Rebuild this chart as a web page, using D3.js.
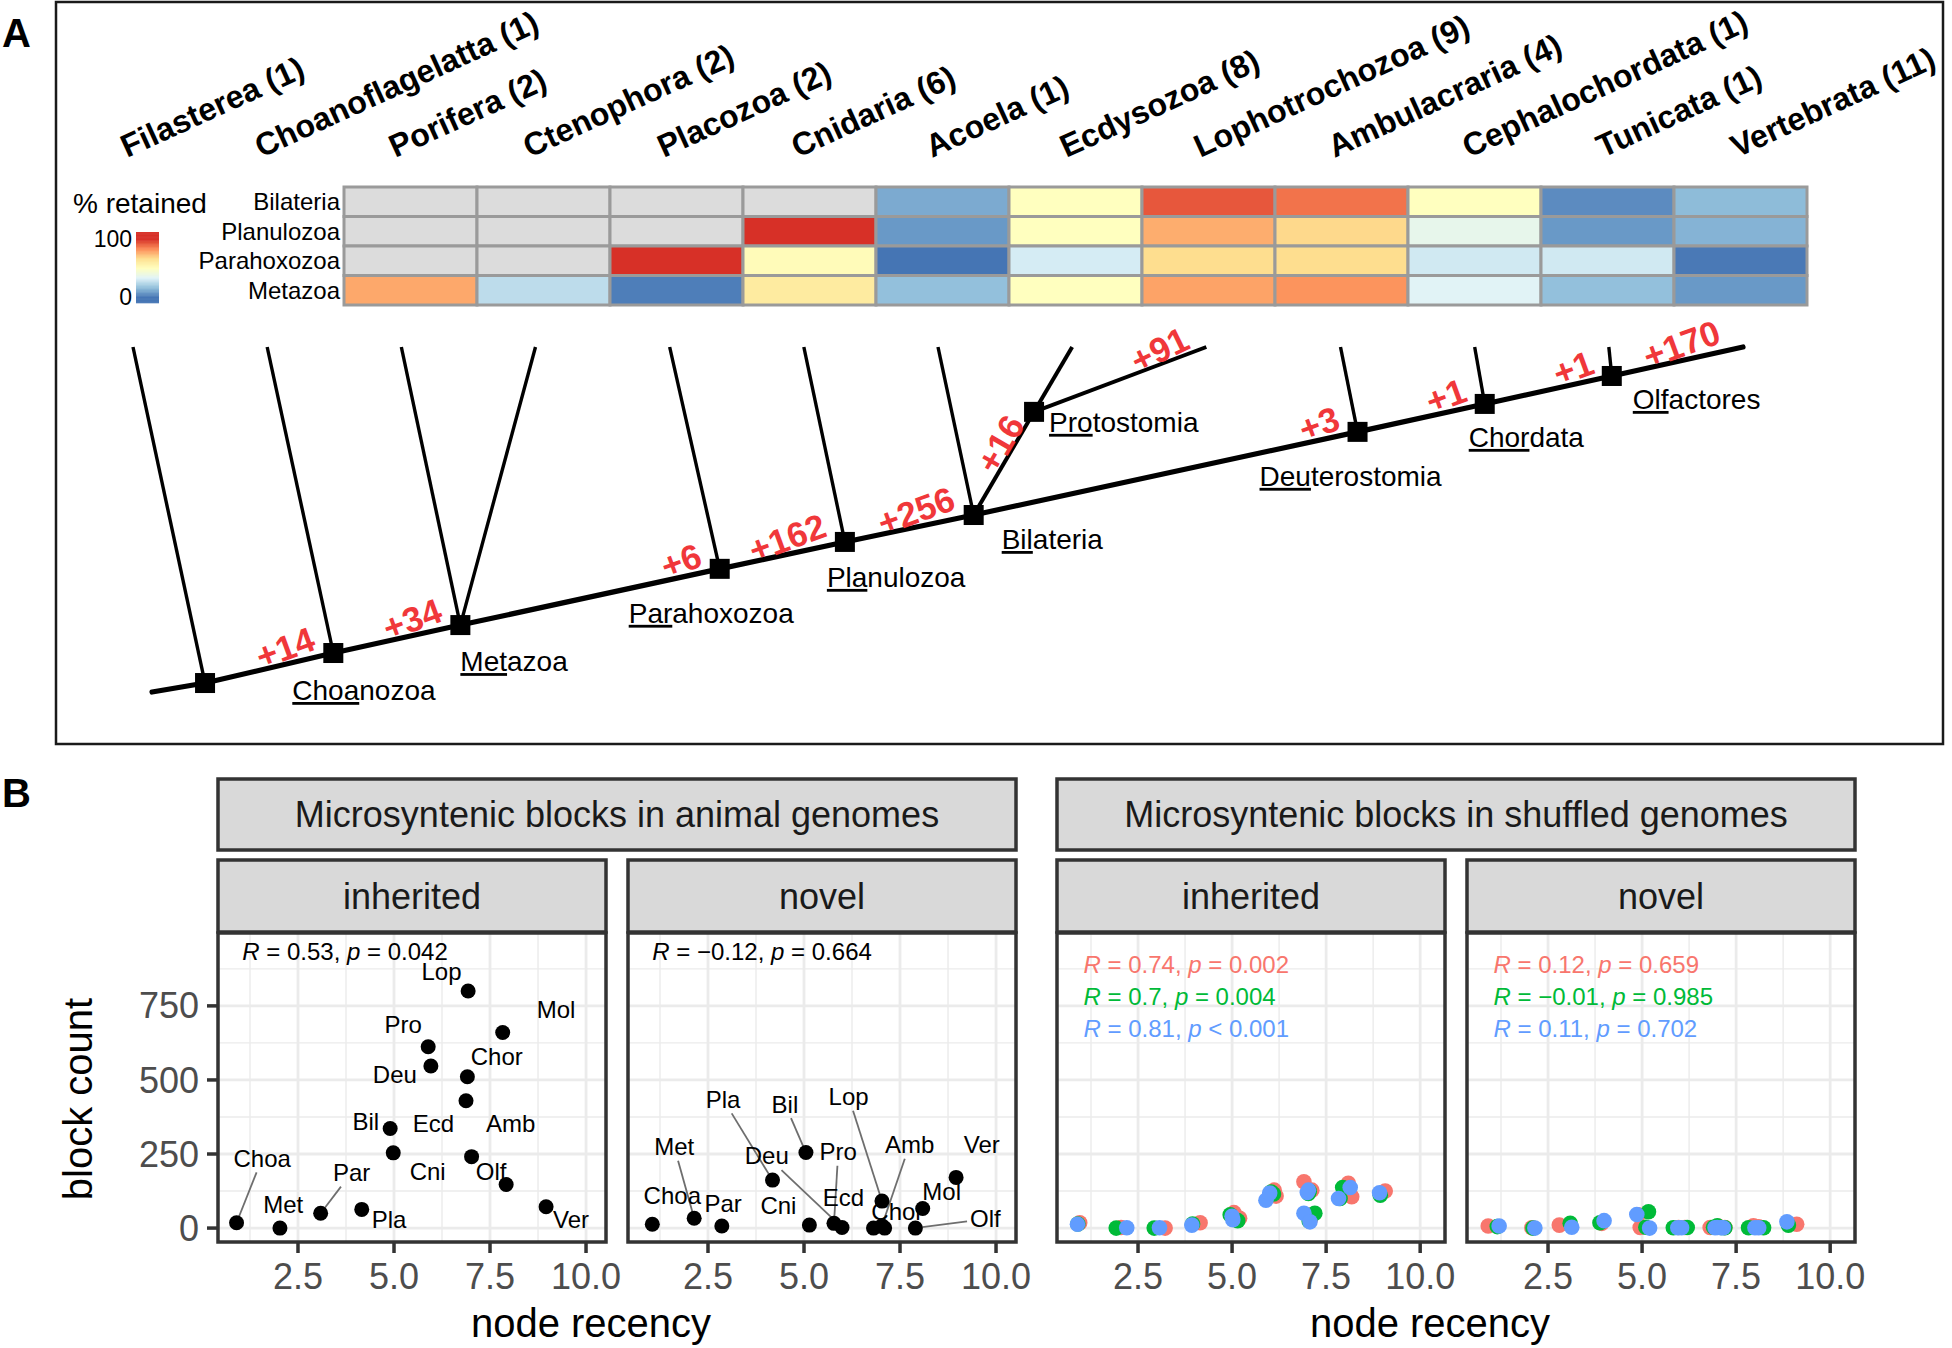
<!DOCTYPE html>
<html><head><meta charset="utf-8">
<script src="https://cdn.jsdelivr.net/npm/d3@7"></script>
<style>
html,body{margin:0;padding:0;background:#fff;}
svg{display:block;font-family:"Liberation Sans",Arial,Helvetica,sans-serif;}
</style></head><body>
<svg id="c" width="1952" height="1348"></svg>
<script>
// ================= DATA =================
// Panel A: taxa (tips of the tree) with genome counts
const tipIds = ["Filasterea","Choanoflagelatta","Porifera","Ctenophora","Placozoa","Cnidaria","Acoela","Ecdysozoa","Lophotrochozoa","Ambulacraria","Cephalochordata","Tunicata","Vertebrata"];
const tipCounts = [1,1,2,2,2,6,1,8,9,4,1,1,11];

// internal nodes: position in tip units, depth (0 = tips, 1 = base of tree)
const nodeIds = ["base","root","Choanozoa","Metazoa","Parahoxozoa","Planulozoa","Bilateria","Protostomia","Deuterostomia","Chordata","Olfactores"];
const nodePos = [0.142,0.537,1.493,2.440,4.373,5.306,6.266,6.716,9.127,10.075,11.022];
const nodeDepth = [1.0,0.974,0.887,0.806,0.643,0.565,0.487,0.188,0.246,0.165,0.084];
const nodeAbbr = {Choanozoa:"Choa",Metazoa:"Met",Parahoxozoa:"Par",Planulozoa:"Pla",Bilateria:"Bil",Protostomia:"Pro",Deuterostomia:"Deu",Chordata:"Chor",Olfactores:"Olf"};

const treeEdges = [["base","root"],["root","Filasterea"],["root","Choanozoa"],["Choanozoa","Choanoflagelatta"],["Choanozoa","Metazoa"],["Metazoa","Porifera"],["Metazoa","Ctenophora"],["Metazoa","Parahoxozoa"],["Parahoxozoa","Placozoa"],["Parahoxozoa","Planulozoa"],["Planulozoa","Cnidaria"],["Planulozoa","Bilateria"],["Bilateria","Acoela"],["Bilateria","Protostomia"],["Protostomia","Ecdysozoa"],["Protostomia","Lophotrochozoa"],["Bilateria","Deuterostomia"],["Deuterostomia","Ambulacraria"],["Deuterostomia","Chordata"],["Chordata","Cephalochordata"],["Chordata","Olfactores"],["Olfactores","Tunicata"],["Olfactores","Vertebrata"]];

// novel blocks gained on the branch leading to a node
const gainNodes = ["Choanozoa","Metazoa","Parahoxozoa","Planulozoa","Bilateria","Protostomia","Lophotrochozoa","Deuterostomia","Chordata","Olfactores","Vertebrata"];
const gainValues = [14,34,6,162,256,16,91,3,1,1,170];

// heatmap: % retained
const heatRows = ["Bilateria","Planulozoa","Parahoxozoa","Metazoa"];
const heatCols = ["Porifera","Ctenophora","Placozoa","Cnidaria","Acoela","Ecdysozoa","Lophotrochozoa","Ambulacraria","Cephalochordata","Tunicata","Vertebrata"];
const retBilateria   = [null,null,null,null,12,50,93,88,50,5,16];
const retPlanulozoa  = [null,null,null,100,8,50,77,68,37,8,14];
const retParahoxozoa = [null,null,100,52,0,31,67,67,30,30,1];
const retMetazoa     = [78,26,2,61,17,50,79,82,34,17,8];

// Panel B: microsyntenic blocks vs node recency
const nodeNames = ["Choa","Met","Par","Pla","Bil","Cni","Pro","Deu","Ecd","Lop","Amb","Chor","Olf","Mol","Ver"];
const inhRecency = [0.90,2.03,3.09,4.16,4.90,4.98,5.89,5.96,6.875,6.93,7.02,6.91,7.92,7.83,8.96];
const inhBlocks  = [18,0,50,63,336,254,612,547,430,800,241,511,147,660,72];
const novRecency = [1.05,2.14,2.86,4.18,5.05,5.14,5.78,5.99,6.81,7.03,7.03,7.10,7.90,8.09,8.96];
const novBlocks  = [13,33,7,162,255,10,16,2,0,91,8,0,0,66,171];

// shuffled genomes: three replicates (red, green, blue), [recency, blocks]
const shufInhRed   = [[0.95,18],[2.05,2],[3.22,0],[4.15,18],[5.05,52],[5.20,33],[6.12,128],[6.17,108],[6.91,156],[7.12,128],[7.08,30],[7.00,45],[8.09,151],[8.18,106],[9.07,125]];
const shufInhGreen = [[0.90,14],[1.92,0],[2.93,0],[3.95,14],[4.95,45],[5.15,25],[6.04,122],[6.10,115],[7.03,117],[7.05,125],[7.20,50],[7.05,24],[7.94,137],[7.87,100],[8.94,111]];
const shufInhBlue  = [[0.89,13],[2.20,1],[3.07,1],[3.93,10],[5.00,40],[5.02,28],[5.90,94],[6.00,118],[7.03,128],[7.00,120],[6.91,50],[7.07,21],[8.14,137],[7.83,100],[8.92,119]];
const shufNovRed   = [[0.91,7],[2.07,1],[2.80,10],[3.93,16],[4.90,45],[4.95,2],[5.97,2],[6.14,2],[6.81,2],[7.03,6],[7.05,3],[7.20,2],[7.96,8],[8.10,4],[9.11,13]];
const shufNovGreen = [[1.15,5],[2.10,0],[3.09,16],[3.88,18],[5.17,55],[5.10,3],[5.83,1],[6.20,2],[6.90,3],[7.00,8],[7.10,2],[7.20,1],[7.83,1],[8.23,1],[8.89,10]];
const shufNovBlue  = [[1.20,7],[2.15,0],[3.13,3],[3.99,25],[4.86,46],[5.20,0],[5.95,1],[6.05,1],[6.94,1],[7.00,2],[7.10,1],[7.16,1],[8.00,1],[8.10,1],[8.85,21]];

const corAnimal = [{R:"0.53",p:"= 0.042"},{R:"\u22120.12",p:"= 0.664"}];
const corShufInh = [{R:"0.74",p:"= 0.002"},{R:"0.7",p:"= 0.004"},{R:"0.81",p:"< 0.001"}];
const corShufNov = [{R:"0.12",p:"= 0.659"},{R:"\u22120.01",p:"= 0.985"},{R:"0.11",p:"= 0.702"}];

const xBreaks = [2.5,5,7.5,10];
const xMinor = [1.25,3.75,6.25,8.75];
const yBreaks = [0,250,500,750];
const yMinor = [125,375,625,875];

// ================= LAYOUT / STYLE =================
const svg = d3.select("#c");
const RED = "#f0373a";
const repCols = ["#F8766D","#00BA38","#619CFF"];

// panel letters
svg.append("text").attr("x",2).attr("y",47).attr("font-size",40).attr("font-weight","bold").text("A");
svg.append("text").attr("x",2).attr("y",807).attr("font-size",40).attr("font-weight","bold").text("B");
svg.append("rect").attr("x",56).attr("y",2).attr("width",1887).attr("height",742)
  .attr("fill","none").attr("stroke","#1a1a1a").attr("stroke-width",2.5);

// ---------- tree scales ----------
const xT = d3.scaleLinear().domain([0,12]).range([133,1743]);
const yT = d3.scaleLinear().domain([0,1]).range([347,692]);
const P = {};
tipIds.forEach((id,i)=>{P[id]=[xT(i),yT(0)];});
nodeIds.forEach((id,i)=>{P[id]=[xT(nodePos[i]),yT(nodeDepth[i])];});

// tip labels
const gTip = svg.append("g");
tipIds.forEach((id,i)=>{
  gTip.append("text")
    .attr("transform",`translate(${xT(i)-6},158) rotate(-24.5)`)
    .attr("font-size",32).attr("font-weight","bold").attr("fill","#000")
    .text(`${id} (${tipCounts[i]})`);
});

// heatmap
const hx = d3.scaleBand().domain(heatCols).range([344,1807]);
const hy = d3.scaleBand().domain(heatRows).range([187,305]);
const col = d3.scaleLinear().domain([0,16.67,33.33,50,66.67,83.33,100])
  .range(["#4575b4","#91bfdb","#e0f3f8","#ffffbf","#fee090","#fc8d59","#d73027"]).clamp(true);
const heatVals = [retBilateria,retPlanulozoa,retParahoxozoa,retMetazoa];
const cells = [];
heatRows.forEach((r,ri)=>heatCols.forEach((c,ci)=>cells.push({r,c,v:heatVals[ri][ci]})));
svg.append("g").selectAll("rect").data(cells).join("rect")
  .attr("x",d=>hx(d.c)).attr("y",d=>hy(d.r)).attr("width",hx.bandwidth()).attr("height",hy.bandwidth())
  .attr("fill",d=>d.v==null?"#dcdcdc":col(d.v)).attr("stroke","#9a9a9a").attr("stroke-width",3);
svg.append("g").selectAll("text").data(heatRows).join("text")
  .attr("x",340).attr("y",d=>hy(d)+hy.bandwidth()/2).attr("dy","0.35em")
  .attr("text-anchor","end").attr("font-size",24).text(d=>d);

// legend
svg.append("text").attr("x",73).attr("y",213).attr("font-size",28).text("% retained");
const cb = d3.scaleLinear().domain([0,100]).range([297,239]);
svg.append("g").selectAll("rect").data(d3.range(-10,112,1)).join("rect")
  .attr("x",136).attr("width",23).attr("y",d=>cb(d+1)).attr("height",cb(0)-cb(1)+0.5)
  .attr("fill",d=>col(d+0.5));
svg.append("g").selectAll("text").data([0,100]).join("text")
  .attr("x",132).attr("y",d=>cb(d)).attr("dy","0.35em").attr("text-anchor","end")
  .attr("font-size",23).text(d=>d);

// tree edges
const backbone = new Set(["base>root","root>Choanozoa","Choanozoa>Metazoa","Metazoa>Parahoxozoa","Parahoxozoa>Planulozoa","Planulozoa>Bilateria","Bilateria>Deuterostomia","Deuterostomia>Chordata","Chordata>Olfactores","Olfactores>Vertebrata"]);
const mid = new Set(["Bilateria>Protostomia","Protostomia>Lophotrochozoa","Protostomia>Ecdysozoa"]);
svg.append("g").selectAll("line").data(treeEdges).join("line")
  .attr("x1",d=>P[d[0]][0]).attr("y1",d=>P[d[0]][1]).attr("x2",d=>P[d[1]][0]).attr("y2",d=>P[d[1]][1])
  .attr("stroke","#000")
  .attr("stroke-width",d=>{const k=d[0]+">"+d[1];return backbone.has(k)?5.2:(mid.has(k)?4:3.4);})
  .attr("stroke-linecap",d=>backbone.has(d[0]+">"+d[1])?"round":"butt");

// node squares
const sqNodes = nodeIds.filter(d=>d!=="base");
svg.append("g").selectAll("rect").data(sqNodes).join("rect")
  .attr("x",d=>P[d][0]-10).attr("y",d=>P[d][1]-10).attr("width",20).attr("height",20).attr("fill","#000");

// node labels (underlined abbreviation)
const nodeLabelOff = {Choanozoa:[-41,47],Metazoa:[0,46],Parahoxozoa:[-91,54],Planulozoa:[-18,45],Bilateria:[28,34],Protostomia:[15,20],Deuterostomia:[-98,54],Chordata:[-16,43],Olfactores:[21,33]};
Object.keys(nodeAbbr).forEach(id=>{
  const t = svg.append("text").attr("x",P[id][0]+nodeLabelOff[id][0]).attr("y",P[id][1]+nodeLabelOff[id][1])
    .attr("font-size",28).attr("fill","#000");
  const a = nodeAbbr[id];
  t.append("tspan").attr("text-decoration","underline").text(a);
  t.append("tspan").text(id.slice(a.length));
});

// gain labels
const parentOf = {};
treeEdges.forEach(e=>{parentOf[e[1]]=e[0];});
const gainAngle = {Protostomia:-60,Lophotrochozoa:-26};
const gainGap = {Protostomia:15,Lophotrochozoa:15,Vertebrata:20};
const gainOffN = {Protostomia:13,Lophotrochozoa:14};
const gG = svg.append("g");
gainNodes.forEach((id,i)=>{
  const t = gG.append("text").attr("font-size",35).attr("font-weight","bold").attr("fill",RED)
    .attr("text-anchor","middle").attr("dy","0.35em").text("+"+gainValues[i]);
  const w = t.node().getComputedTextLength();
  const p = P[parentOf[id]], c = P[id];
  const dx=c[0]-p[0], dy=c[1]-p[1], L=Math.hypot(dx,dy);
  const ux=dx/L, uy=dy/L, nx=uy, ny=-ux;
  const gap = gainGap[id] ?? 16, off = gainOffN[id] ?? 16;
  const cx = c[0]-ux*(w/2+gap)+nx*off, cy = c[1]-uy*(w/2+gap)+ny*off;
  t.attr("transform",`translate(${cx},${cy}) rotate(${gainAngle[id] ?? -20})`);
});

// ================= PANEL B =================
const yB = d3.scaleLinear().domain([-47,996]).range([1242,933]);
const PW = 388;

function strip(x0,x1,y0,y1,label){
  svg.append("rect").attr("x",x0).attr("y",y0).attr("width",x1-x0).attr("height",y1-y0)
    .attr("fill","#d9d9d9").attr("stroke","#333").attr("stroke-width",3.5);
  svg.append("text").attr("x",(x0+x1)/2).attr("y",(y0+y1)/2).attr("dy","0.35em")
    .attr("text-anchor","middle").attr("font-size",36).attr("fill","#1a1a1a").text(label);
}

function panel(x0, xDomain, opts){
  const g = svg.append("g");
  const x = d3.scaleLinear().domain(xDomain).range([x0,x0+PW]);
  // grid
  g.selectAll(".vmin").data(xMinor).join("line").attr("x1",d=>x(d)).attr("x2",d=>x(d)).attr("y1",933).attr("y2",1242)
    .attr("stroke","#ebebeb").attr("stroke-width",1.4);
  g.selectAll(".hmin").data(yMinor).join("line").attr("y1",d=>yB(d)).attr("y2",d=>yB(d)).attr("x1",x0).attr("x2",x0+PW)
    .attr("stroke","#ebebeb").attr("stroke-width",1.4);
  g.selectAll(".vmaj").data(xBreaks).join("line").attr("x1",d=>x(d)).attr("x2",d=>x(d)).attr("y1",933).attr("y2",1242)
    .attr("stroke","#ebebeb").attr("stroke-width",2.8);
  g.selectAll(".hmaj").data(yBreaks).join("line").attr("y1",d=>yB(d)).attr("y2",d=>yB(d)).attr("x1",x0).attr("x2",x0+PW)
    .attr("stroke","#ebebeb").attr("stroke-width",2.8);
  // x axis ticks + labels
  g.selectAll(".xt").data(xBreaks).join("line").attr("x1",d=>x(d)).attr("x2",d=>x(d)).attr("y1",1243).attr("y2",1253)
    .attr("stroke","#333").attr("stroke-width",3.5);
  g.selectAll(".xl").data(xBreaks).join("text").attr("x",d=>x(d)).attr("y",1289).attr("text-anchor","middle")
    .attr("font-size",36).attr("fill","#4d4d4d").text(d=>d3.format(".1f")(d));
  if(opts.yAxis){
    g.selectAll(".yt").data(yBreaks).join("line").attr("x1",x0-11).attr("x2",x0-1).attr("y1",d=>yB(d)).attr("y2",d=>yB(d))
      .attr("stroke","#333").attr("stroke-width",3.5);
    g.selectAll(".yl").data(yBreaks).join("text").attr("x",x0-19).attr("y",d=>yB(d)).attr("dy","0.35em")
      .attr("text-anchor","end").attr("font-size",36).attr("fill","#4d4d4d").text(d=>d);
  }
  // data
  if(opts.labelled){
    const pts = nodeNames.map((n,i)=>({n,px:x(opts.xs[i]),py:yB(opts.ys[i]),off:opts.off[i],seg:opts.seg.includes(n)}));
    const segG = g.append("g"), ptG = g.append("g"), lbG = g.append("g");
    pts.forEach(d=>{
      const t = lbG.append("text").attr("x",d.px+d.off[0]).attr("y",d.py+d.off[1]).attr("dy","0.35em")
        .attr("text-anchor","middle").attr("font-size",24).attr("fill","#000").text(d.n);
      if(d.seg){
        const w = t.node().getComputedTextLength();
        const lx=d.px+d.off[0], ly=d.py+d.off[1];
        const dx=d.px-lx, dy=d.py-ly;
        const tt = Math.min((w/2+3)/Math.abs(dx||1e-6),(14)/Math.abs(dy||1e-6));
        const L=Math.hypot(dx,dy);
        segG.append("line").attr("x1",lx+dx*tt).attr("y1",ly+dy*tt).attr("x2",d.px-dx/L*7).attr("y2",d.py-dy/L*7)
          .attr("stroke","#6e6e6e").attr("stroke-width",1.8);
      }
    });
    ptG.selectAll("circle").data(pts).join("circle").attr("cx",d=>d.px).attr("cy",d=>d.py).attr("r",7.5).attr("fill","#000");
  } else {
    opts.series.forEach((s,k)=>{
      g.append("g").selectAll("circle").data(s).join("circle")
        .attr("cx",d=>x(d[0])).attr("cy",d=>yB(d[1])).attr("r",7.8).attr("fill",repCols[k]);
    });
  }
  // correlation labels
  opts.cor.forEach((c,k)=>{
    const t = g.append("text").attr("x",x(1.05)).attr("y",opts.corY[k]).attr("font-size",24)
      .attr("fill",opts.corCol?opts.corCol[k]:"#000");
    t.append("tspan").attr("font-style","italic").text("R");
    t.append("tspan").text(" = "+c.R+", ");
    t.append("tspan").attr("font-style","italic").text("p");
    t.append("tspan").text(" "+c.p);
  });
  // border
  g.append("rect").attr("x",x0).attr("y",933).attr("width",PW).attr("height",309)
    .attr("fill","none").attr("stroke","#333").attr("stroke-width",3.5);
}

// strips
strip(218,1016,779,850,"Microsyntenic blocks in animal genomes");
strip(218,606,860,932,"inherited");
strip(628,1016,860,932,"novel");
strip(1057,1855,779,850,"Microsyntenic blocks in shuffled genomes");
strip(1057,1445,860,932,"inherited");
strip(1467,1855,860,932,"novel");

const inhLabelOff = [[25.6,-64.4],[3.3,-23.3],[31,-40.6],[27.3,10],[-24.3,-6.6],[34.4,19],[-25,-22.4],[-36,9],[-32.7,23.3],[-26.6,-19],[39,-32.7],[29.4,-20],[-15,-12.6],[53.3,-23],[25,13.3]];
const novLabelOff = [[20,-29],[-20,-71.6],[1.3,-22],[-49.4,-80.7],[-21,-48.3],[-31,-20],[4.3,-71.6],[-75.3,-71.4],[-30,-30],[-33.4,-104.3],[27.6,-81],[12.7,-16.6],[70,-9],[19,-17.3],[25.7,-33.3]];

const leftDom = [0.417,10.52], rightDom = [0.346,10.66];
panel(218,leftDom,{yAxis:true,labelled:true,xs:inhRecency,ys:inhBlocks,off:inhLabelOff,seg:["Choa","Par"],cor:[corAnimal[0]],corY:[960]});
panel(628,leftDom,{labelled:true,xs:novRecency,ys:novBlocks,off:novLabelOff,seg:["Met","Pla","Bil","Pro","Deu","Lop","Amb","Olf"],cor:[corAnimal[1]],corY:[960]});
panel(1057,rightDom,{series:[shufInhRed,shufInhGreen,shufInhBlue],cor:corShufInh,corY:[973,1005,1037],corCol:repCols});
panel(1467,rightDom,{series:[shufNovRed,shufNovGreen,shufNovBlue],cor:corShufNov,corY:[973,1005,1037],corCol:repCols});

// axis titles
svg.append("text").attr("transform","translate(92,1099) rotate(-90)").attr("text-anchor","middle")
  .attr("font-size",40).attr("fill","#000").text("block count");
svg.append("text").attr("x",591).attr("y",1337).attr("text-anchor","middle").attr("font-size",40).text("node recency");
svg.append("text").attr("x",1430).attr("y",1337).attr("text-anchor","middle").attr("font-size",40).text("node recency");
</script>
</body></html>
